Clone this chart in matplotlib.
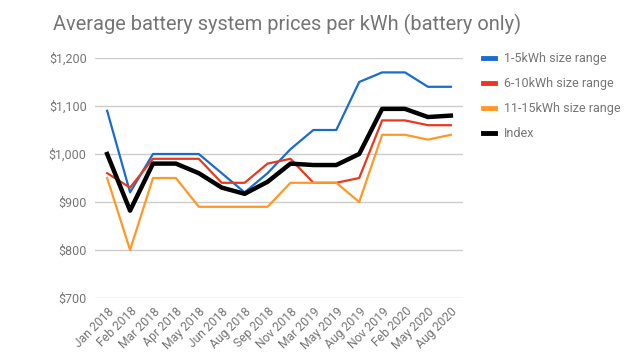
import matplotlib
matplotlib.use("Agg")
import matplotlib.pyplot as plt
from matplotlib.ticker import FuncFormatter

categories = ["Jan 2018", "Feb 2018", "Mar 2018", "Apr 2018", "May 2018", "Jun 2018",
              "Aug 2018", "Sep 2018", "Nov 2018", "Mar 2019", "May 2019", "Aug 2019",
              "Nov 2019", "Feb 2020", "May 2020", "Aug 2020"]
range_1_5 = [1090, 920, 1000, 1000, 1000, 960, 920, 960, 1010, 1050, 1050, 1150, 1170, 1170, 1140, 1140]
range_6_10 = [960, 930, 990, 990, 990, 940, 940, 980, 990, 940, 940, 950, 1070, 1070, 1060, 1060]
range_11_15 = [950, 800, 950, 950, 890, 890, 890, 890, 940, 940, 940, 900, 1040, 1040, 1030, 1040]
index = [1000, 882, 980, 980, 960, 930, 917, 942, 980, 977, 977, 1000, 1094, 1094, 1077, 1080]
yticks = [700, 800, 900, 1000, 1100, 1200]

plt.rcParams['font.family'] = ['Roboto', 'DejaVu Sans']
gray = "#757575"

fig = plt.figure(figsize=(6.44, 3.63), dpi=100)
ax = fig.add_axes([95/644, 1-298/363, (463-95)/644, (298-58)/363])

x = list(range(len(categories)))
ax.plot(x, range_1_5, color="#1a6ccc", lw=1.6, label="1-5kWh size range")
ax.plot(x, range_6_10, color="#e8391f", lw=1.6, label="6-10kWh size range")
ax.plot(x, range_11_15, color="#ff9826", lw=1.6, label="11-15kWh size range")
ax.plot(x, index, color="black", lw=3.2, label="Index")

ax.set_ylim(700, 1200)
ax.set_xlim(-0.53, len(categories) - 1 + 0.53)
ax.set_yticks(yticks)
ax.yaxis.set_major_formatter(FuncFormatter(lambda v, p: f"${v:,.0f}"))
ax.set_xticks(x)
ax.set_xticklabels(categories, rotation=45, ha="right", rotation_mode="anchor")
ax.tick_params(axis="both", length=0, colors=gray, labelsize=9)
ax.tick_params(axis="x", labelsize=8.7)
ax.tick_params(axis="y", pad=6)
ax.tick_params(axis="x", pad=5)
ax.grid(axis="y", color="#cccccc", lw=1)
ax.set_axisbelow(True)
for s in ax.spines.values():
    s.set_visible(False)

fig.text(53/644, 1-30/363, "Average battery system prices per kWh (battery only)",
         fontsize=14.4, color=gray, ha="left", va="baseline")

leg = ax.legend(loc="upper left", bbox_to_anchor=(472/644, 1-41/363), bbox_transform=fig.transFigure,
                frameon=False, fontsize=9, handlelength=0.9, handletextpad=0.75,
                labelspacing=0.95, labelcolor=gray)
for h in leg.get_lines():
    h.set_linewidth(3.5)

fig.savefig("out.png", dpi=100)
